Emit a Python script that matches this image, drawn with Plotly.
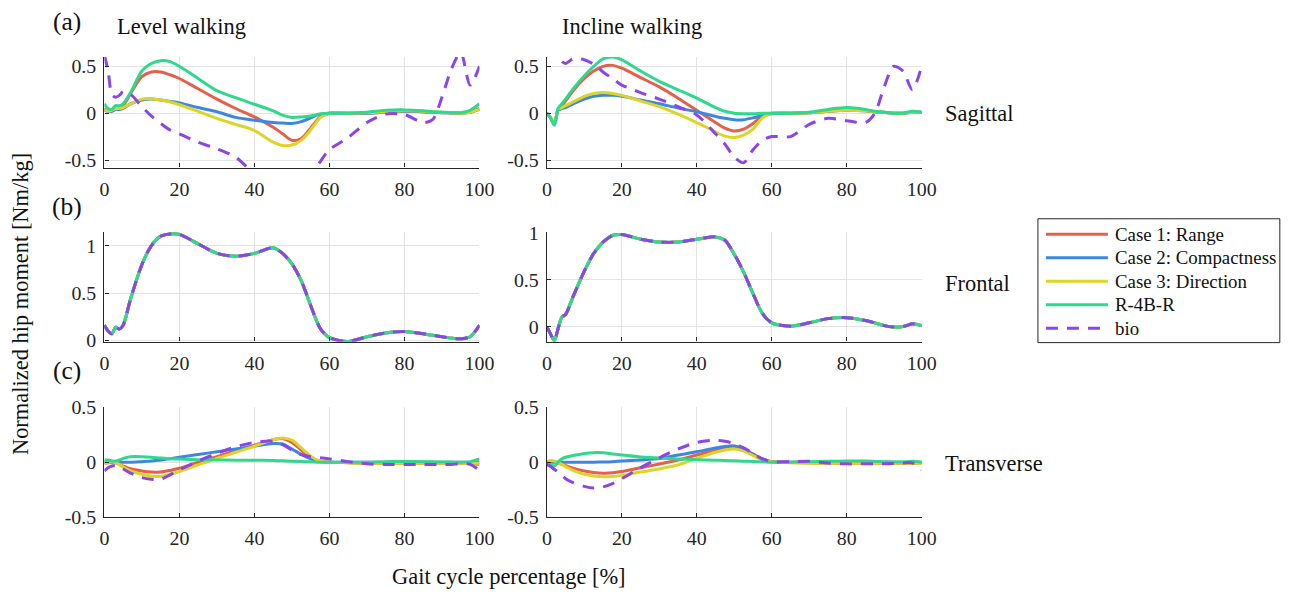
import plotly.graph_objects as go

# Gait cycle sample positions [%]
gait = [0, 1, 2, 3, 4, 5, 7, 10, 12.5, 15, 17.5, 20, 25, 30, 35, 40, 45, 47.5,
        50, 52.5, 55, 57.5, 60, 65, 70, 75, 80, 85, 87.5, 90, 92.5, 95, 97.5, 100]

series_names = ["Case 1: Range", "Case 2: Compactness", "Case 3: Direction", "R-4B-R", "bio"]

# ---- Sagittal, level walking
sag_level_case1 = [0.05, 0.02, 0.04, 0.05, 0.06, 0.08, 0.21, 0.39, 0.44, 0.44, 0.41, 0.37, 0.26, 0.15, 0.05, -0.04, -0.15, -0.22,
                   -0.29, -0.27, -0.16, -0.04, 0, 0, 0, 0.01, 0.02, 0.015, 0.01, 0.005, 0.003, 0, 0.01, 0.05]
sag_level_case2 = [0.03, 0.02, 0.02, 0.04, 0.04, 0.05, 0.1, 0.14, 0.15, 0.14, 0.125, 0.11, 0.06, 0.015, -0.045, -0.075, -0.1, -0.105,
                   -0.11, -0.09, -0.05, -0.01, 0, 0, 0, 0.01, 0.02, 0.015, 0.01, 0.005, 0.003, 0, 0.01, 0.04]
sag_level_case3 = [0.04, 0.02, 0.03, 0.05, 0.05, 0.06, 0.1, 0.15, 0.155, 0.14, 0.12, 0.09, 0.02, -0.055, -0.12, -0.185, -0.31, -0.345,
                   -0.34, -0.29, -0.18, -0.05, 0, 0, 0.005, 0.015, 0.025, 0.02, 0.015, 0.01, 0.005, 0, 0.01, 0.04]
sag_level_r4br = [0.1, 0.05, 0.04, 0.08, 0.08, 0.1, 0.22, 0.45, 0.53, 0.56, 0.55, 0.5, 0.37, 0.24, 0.165, 0.095, 0.025, -0.02,
                  -0.045, -0.04, -0.03, -0.01, 0, 0, 0.01, 0.03, 0.035, 0.025, 0.015, 0.01, 0.005, 0.005, 0.03, 0.1]
sag_level_bio = [0.62, 0.45, 0.2, 0.17, 0.19, 0.23, 0.2, 0.07, -0.03, -0.11, -0.18, -0.22, -0.31, -0.38, -0.47, -0.65, -0.8, -0.83,
                 -0.82, -0.78, -0.68, -0.52, -0.39, -0.26, -0.1, -0.01, -0.015, -0.1, -0.07, 0.17, 0.47, 0.65, 0.3, 0.5]

# ---- Sagittal, incline walking
sag_incline_case1 = [0, -0.05, -0.12, 0.04, 0.08, 0.13, 0.24, 0.37, 0.45, 0.5, 0.51, 0.48, 0.38, 0.28, 0.16, 0.03, -0.1, -0.16,
                     -0.19, -0.17, -0.11, -0.03, 0, 0, 0.005, 0.02, 0.03, 0.025, 0.015, 0.01, 0, 0, 0.01, 0.01]
sag_incline_case2 = [0, -0.05, -0.12, 0.03, 0.05, 0.06, 0.1, 0.15, 0.18, 0.19, 0.19, 0.18, 0.14, 0.1, 0.055, 0.015, -0.035, -0.055,
                     -0.07, -0.07, -0.05, -0.025, -0.005, 0, 0.005, 0.02, 0.03, 0.025, 0.015, 0.01, 0, 0, 0.01, 0.01]
sag_incline_case3 = [0, -0.05, -0.12, 0.04, 0.06, 0.08, 0.12, 0.18, 0.21, 0.22, 0.21, 0.19, 0.13, 0.07, -0.01, -0.1, -0.2, -0.245,
                     -0.26, -0.235, -0.17, -0.05, 0, 0, 0.005, 0.02, 0.03, 0.025, 0.015, 0.01, 0, 0, 0.01, 0.01]
sag_incline_r4br = [0, -0.05, -0.13, 0.05, 0.1, 0.15, 0.26, 0.4, 0.5, 0.58, 0.6, 0.57, 0.45, 0.34, 0.25, 0.16, 0.06, 0.02,
                    0, -0.005, -0.005, 0, 0, 0, 0.01, 0.04, 0.06, 0.04, 0.02, 0.01, 0, 0, 0.02, 0.01]
sag_incline_bio = [0.7, 0.68, 0.63, 0.6, 0.55, 0.53, 0.58, 0.57, 0.52, 0.44, 0.37, 0.3, 0.22, 0.15, 0.07, -0.02, -0.22, -0.33,
                   -0.47, -0.53, -0.39, -0.29, -0.25, -0.25, -0.12, -0.055, -0.08, -0.1, 0.0, 0.28, 0.5, 0.45, 0.25, 0.5]

# ---- Frontal (all controllers follow the biological reference)
fro_level = [0.16, 0.1, 0.07, 0.14, 0.12, 0.16, 0.44, 0.8, 1.0, 1.1, 1.125, 1.12, 1.02, 0.92, 0.89, 0.92, 0.98, 0.92,
             0.81, 0.63, 0.37, 0.13, 0.03, -0.01, 0.04, 0.08, 0.095, 0.07, 0.055, 0.04, 0.025, 0.018, 0.04, 0.16]
fro_incline = [0, -0.08, -0.15, -0.02, 0.1, 0.13, 0.32, 0.59, 0.78, 0.9, 0.97, 0.98, 0.93, 0.9, 0.9, 0.93, 0.955, 0.92,
               0.77, 0.58, 0.35, 0.14, 0.04, 0.005, 0.04, 0.085, 0.095, 0.065, 0.04, 0.01, -0.005, 0, 0.03, 0.01]

# ---- Transverse, level walking
tra_level_case1 = [-0.01, -0.005, 0, -0.005, -0.02, -0.035, -0.06, -0.08, -0.09, -0.09, -0.075, -0.055, 0.0, 0.05, 0.105, 0.155, 0.205, 0.215,
                   0.18, 0.11, 0.04, 0.01, 0, -0.005, -0.01, -0.01, -0.01, -0.01, -0.01, -0.01, -0.01, -0.01, -0.01, -0.02]
tra_level_case2 = [0, 0, 0, 0, 0, 0, 0, 0.005, 0.01, 0.02, 0.03, 0.045, 0.07, 0.095, 0.12, 0.145, 0.17, 0.165,
                   0.12, 0.07, 0.03, 0.005, 0, 0, 0, 0, 0, 0, 0, 0, 0, 0, 0, 0]
tra_level_case3 = [-0.01, 0, 0.005, -0.005, -0.02, -0.045, -0.08, -0.11, -0.125, -0.13, -0.11, -0.085, -0.025, 0.035, 0.09, 0.145, 0.205, 0.22,
                   0.2, 0.13, 0.055, 0.01, 0, -0.005, -0.01, -0.01, -0.01, -0.01, -0.01, -0.01, -0.01, -0.01, -0.01, -0.01]
tra_level_r4br = [0.02, 0.02, 0.01, 0.01, 0.02, 0.035, 0.05, 0.05, 0.045, 0.037, 0.032, 0.028, 0.023, 0.02, 0.018, 0.018, 0.015, 0.012,
                  0.009, 0.006, 0.003, 0, 0, 0, 0, 0.005, 0.007, 0.005, 0.003, 0.002, 0.001, 0, 0.005, 0.03]
tra_level_bio = [-0.08, -0.05, -0.035, -0.03, -0.04, -0.06, -0.1, -0.14, -0.155, -0.155, -0.115, -0.07, 0.01, 0.08, 0.14, 0.18, 0.19, 0.16,
                 0.11, 0.07, 0.05, 0.04, 0.03, 0.005, -0.015, -0.02, -0.02, -0.02, -0.02, -0.02, -0.02, -0.015, -0.02, -0.075]

# ---- Transverse, incline walking
tra_incline_case1 = [0, 0.01, 0.005, -0.005, -0.02, -0.03, -0.055, -0.08, -0.093, -0.1, -0.097, -0.085, -0.05, -0.017, 0.02, 0.065, 0.11, 0.135,
                     0.147, 0.12, 0.075, 0.03, 0.005, 0, -0.005, -0.01, -0.01, -0.01, -0.01, -0.01, -0.01, -0.01, -0.01, -0.005]
tra_incline_case2 = [0, 0, 0, 0, 0, 0, 0, 0, 0, 0.002, 0.005, 0.01, 0.02, 0.033, 0.065, 0.095, 0.13, 0.143,
                     0.145, 0.12, 0.07, 0.03, 0.005, 0, 0, 0, 0, 0, 0, 0, 0, 0, 0, 0]
tra_incline_case3 = [0, 0.015, 0.01, -0.005, -0.02, -0.04, -0.075, -0.11, -0.125, -0.133, -0.13, -0.12, -0.09, -0.062, -0.025, 0.035, 0.09, 0.11,
                     0.12, 0.1, 0.06, 0.02, 0.003, -0.005, -0.01, -0.01, -0.01, -0.01, -0.01, -0.01, -0.01, -0.01, -0.01, -0.01]
tra_incline_r4br = [0, -0.02, -0.035, 0, 0.03, 0.045, 0.06, 0.08, 0.087, 0.085, 0.075, 0.065, 0.048, 0.037, 0.03, 0.023, 0.018, 0.015,
                    0.012, 0.009, 0.006, 0.003, 0, 0, 0.005, 0.008, 0.01, 0.01, 0.007, 0.004, 0.002, 0.001, 0.008, 0]
tra_incline_bio = [-0.02, -0.04, -0.065, -0.09, -0.12, -0.15, -0.185, -0.22, -0.235, -0.225, -0.195, -0.15, -0.05, 0.04, 0.12, 0.18, 0.2, 0.19,
                   0.17, 0.13, 0.08, 0.03, 0.005, 0.005, 0.008, -0.008, -0.015, -0.015, -0.015, -0.015, -0.012, -0.008, -0.006, -0.073]

x_ticks = [0, 20, 40, 60, 80, 100]
sag_ticks, sag_labels = [-0.5, 0, 0.5], ["-0.5", "0", "0.5"]
fro_ticks, fro_labels = [0, 0.5, 1], ["0", "0.5", "1"]
tra_ticks, tra_labels = [-0.5, 0, 0.5], ["-0.5", "0", "0.5"]

colors = ["#E5604B", "#3C87E2", "#DCD526", "#2ED88C", "#8C45E8"]
dashes = ["solid", "solid", "solid", "solid", "12px,9px"]

W, H = 1295, 593
FONT = "Liberation Serif"
INK = "#262626"

# page placement: the layout below is given in page pixels; these map it onto the figure canvas
SX, OX = 0.985, 4.6
SY, OY = 0.964, 10.0
FS = 1.02  # font scale


def cx(px):
    return (px - OX) / SX


def cy(py):
    return (py - OY) / SY


# panel layout in page pixels: (left, right) columns and (top, bottom) rows
cols = [(104, 479.3), (546.7, 921.7)]
rows = [(56, 166.7), (231, 341), (406.7, 516.7)]

panels = [
    # row, col, curves, y range, y ticks, y labels
    (0, 0, [sag_level_case1, sag_level_case2, sag_level_case3, sag_level_r4br, sag_level_bio], [-0.58, 0.6], sag_ticks, sag_labels),
    (0, 1, [sag_incline_case1, sag_incline_case2, sag_incline_case3, sag_incline_r4br, sag_incline_bio], [-0.58, 0.6], sag_ticks, sag_labels),
    (1, 0, [fro_level] * 5, [-0.012, 1.148], fro_ticks, fro_labels),
    (1, 1, [fro_incline] * 5, [-0.16, 1.01], fro_ticks, fro_labels),
    (2, 0, [tra_level_case1, tra_level_case2, tra_level_case3, tra_level_r4br, tra_level_bio], [-0.5, 0.5], tra_ticks, tra_labels),
    (2, 1, [tra_incline_case1, tra_incline_case2, tra_incline_case3, tra_incline_r4br, tra_incline_bio], [-0.5, 0.5], tra_ticks, tra_labels),
]

fig = go.Figure()
layout = {}

for k, (r, c, curves, yr, yt, yl) in enumerate(panels, start=1):
    xa = "x" if k == 1 else f"x{k}"
    ya = "y" if k == 1 else f"y{k}"
    for i, (name, vals) in enumerate(zip(series_names, curves)):
        fig.add_trace(go.Scatter(
            x=gait, y=vals, mode="lines", name=name,
            line=dict(color=colors[i], width=3, shape="spline", smoothing=0.8, dash=dashes[i]),
            showlegend=False, xaxis=xa, yaxis=ya,
        ))
    l, rr = cols[c]
    t, b = rows[r]
    common = dict(
        showline=True, linecolor=INK, linewidth=1.3, mirror=False,
        showgrid=True, gridcolor="#e4e4e4", gridwidth=1, zeroline=False,
        ticks="inside", ticklen=4, tickcolor=INK, tickwidth=1,
        tickfont=dict(family=FONT, size=19.5 * FS, color=INK),
    )
    layout["xaxis" if k == 1 else f"xaxis{k}"] = dict(
        common, domain=[cx(l) / W, cx(rr) / W], range=[0, 100],
        tickvals=x_ticks, ticktext=[str(v) for v in x_ticks],
        anchor=ya, ticklabelstandoff=3,
    )
    layout["yaxis" if k == 1 else f"yaxis{k}"] = dict(
        common, domain=[1 - cy(b) / H, 1 - cy(t) / H], range=yr,
        tickvals=yt, ticktext=yl, anchor=xa, ticklabelstandoff=3,
    )

fig.update_layout(**layout)


def px_note(text, x, y, size=22, xanchor="center", textangle=0):
    return dict(text=text, x=cx(x) / W, y=1 - cy(y) / H, xref="paper", yref="paper",
                xanchor=xanchor, yanchor="middle", showarrow=False, textangle=textangle,
                font=dict(family=FONT, size=size * FS, color="#111111"))


annotations = [
    px_note("(a)", 67, 21, size=25),
    px_note("(b)", 67, 206, size=25),
    px_note("(c)", 67, 370, size=25),
    px_note("Level walking", 181, 26),
    px_note("Incline walking", 632, 26),
    px_note("Sagittal", 943, 113, xanchor="left"),
    px_note("Frontal", 943, 283, xanchor="left"),
    px_note("Transverse", 943, 463, xanchor="left"),
    px_note("Gait cycle percentage [%]", 509, 576),
    px_note("Normalized hip moment [Nm/kg]", 20, 303, textangle=-90),
]

# Legend box: frame, line samples and labels placed in page pixels
box_l, box_r, box_t, box_b = 1038, 1280, 218, 342
entry_y0, entry_dy = 233.5, 23.5
shapes = [dict(type="rect", xref="paper", yref="paper",
               x0=cx(box_l) / W, x1=cx(box_r) / W, y0=1 - cy(box_b) / H, y1=1 - cy(box_t) / H,
               line=dict(color=INK, width=1), fillcolor="white", layer="above")]
for i, name in enumerate(series_names):
    yy = entry_y0 + i * entry_dy
    shapes.append(dict(type="line", xref="paper", yref="paper",
                       x0=cx(1046) / W, x1=cx(1108) / W, y0=1 - cy(yy) / H, y1=1 - cy(yy) / H,
                       line=dict(color=colors[i], width=3, dash=dashes[i]), layer="above"))
    annotations.append(px_note(name, 1113, yy, size=18.5, xanchor="left"))

fig.update_layout(
    width=W, height=H,
    margin=dict(l=0, r=0, t=0, b=0, pad=0),
    paper_bgcolor="white", plot_bgcolor="white",
    font=dict(family=FONT, color="#111111"),
    showlegend=False,
    annotations=annotations,
    shapes=shapes,
)

fig.write_html("out.html")
